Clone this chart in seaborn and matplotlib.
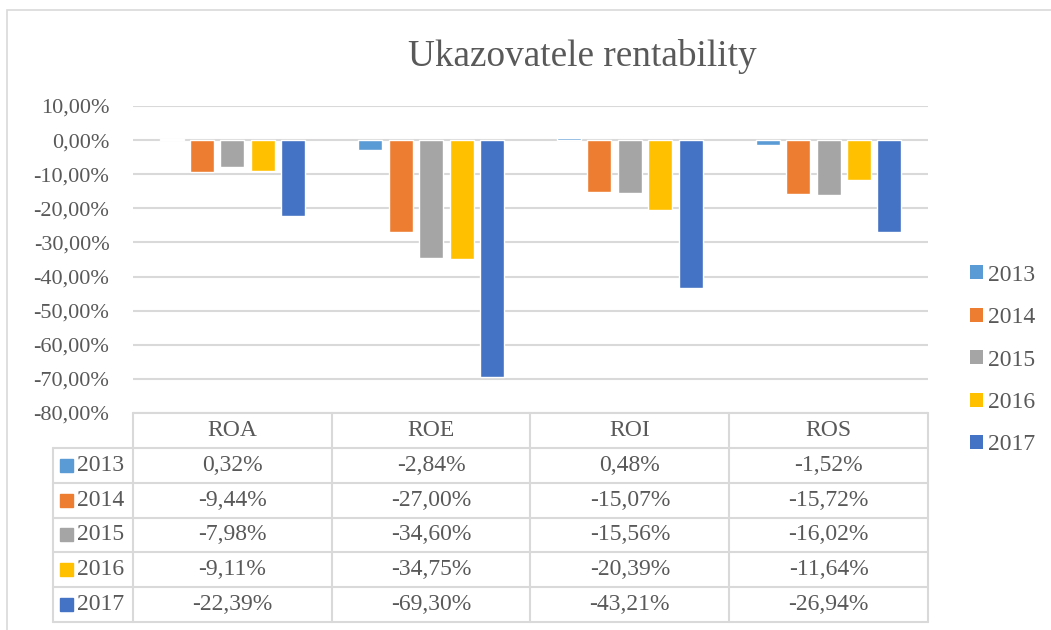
import matplotlib.pyplot as plt
import matplotlib.patches as mpatches
import pandas as pd
import seaborn as sns

categories = ["ROA", "ROE", "ROI", "ROS"]
years = ["2013", "2014", "2015", "2016", "2017"]
v2013 = [0.32, -2.84, 0.48, -1.52]
v2014 = [-9.44, -27.00, -15.07, -15.72]
v2015 = [-7.98, -34.60, -15.56, -16.02]
v2016 = [-9.11, -34.75, -20.39, -11.64]
v2017 = [-22.39, -69.30, -43.21, -26.94]
colors = ["#5B9BD5", "#ED7D31", "#A5A5A5", "#FFC000", "#4472C4"]
yticks = [10, 0, -10, -20, -30, -40, -50, -60, -70, -80]

series = [v2013, v2014, v2015, v2016, v2017]
df = pd.DataFrame({
    "ukazovatel": [c for _ in years for c in categories],
    "rok": [y for y in years for _ in categories],
    "hodnota": [v for s in series for v in s],
})

sns.set_theme(style="white")
plt.rcParams["font.family"] = ["Liberation Serif", "DejaVu Serif"]
txt = "#595959"
grid = "#D9D9D9"

W, H = 1051, 630
fig = plt.figure(figsize=(W / 100, H / 100), dpi=100)

# chart border
fig.patches.append(mpatches.Rectangle((7 / W, -0.1), 1.2, 1.1 - 10 / H, transform=fig.transFigure,
                                      fill=False, edgecolor=grid, linewidth=1.2))

# main plot area
ax = fig.add_axes([133 / W, (H - 413) / H, (928 - 133) / W, (413 - 106) / H])
sns.barplot(data=df, x="ukazovatel", y="hodnota", hue="rok", palette=colors, saturation=1,
            width=0.765, gap=0.21, ax=ax, legend=False, zorder=3)
ax.set_xlim(-0.5, 3.5)
ax.set_ylim(-80, 10)
ax.set_yticks(yticks)
ax.set_yticklabels([f"{t:.2f}%".replace(".", ",") for t in yticks], fontsize=16, color=txt)
ax.tick_params(axis="y", length=0, pad=17)
ax.set_xticks([])
ax.set_xlabel("")
ax.set_ylabel("")
for s in ax.spines.values():
    s.set_visible(False)
for t in yticks:
    ax.axhline(t, color=grid, linewidth=1.5, zorder=1)

handles = [mpatches.Patch(facecolor=c, edgecolor="none") for c in colors]
ax.legend(handles, years, loc="center left", bbox_to_anchor=(949 / W, (H - 360) / H),
          bbox_transform=fig.transFigure, frameon=False, fontsize=17, labelcolor=txt,
          handlelength=0.55, handleheight=0.55, handletextpad=0.2, labelspacing=0.91)

fig.text(582 / W, (H - 57) / H, "Ukazovatele rentability", ha="center", va="center",
         fontsize=26.8, color=txt)

# data table under the plot, aligned with category positions
lab_w = 80 / 199
tax = fig.add_axes([53 / W, (H - 622) / H, (928 - 53) / W, (622 - 413) / H])
tax.set_xlim(-0.5 - lab_w, 3.5)
tax.set_ylim(6, 0)
tax.axis("off")
lw = 1.5
tax.plot([-0.5, 3.5], [0, 0], color=grid, lw=lw, clip_on=False)
for r in range(1, 7):
    tax.plot([-0.5 - lab_w, 3.5], [r, r], color=grid, lw=lw, clip_on=False)
tax.plot([-0.5 - lab_w] * 2, [1, 6], color=grid, lw=lw, clip_on=False)
for xv in [-0.5, 0.5, 1.5, 2.5, 3.5]:
    tax.plot([xv, xv], [0, 6], color=grid, lw=lw, clip_on=False)
for i, c in enumerate(categories):
    tax.text(i, 0.5, c, ha="center", va="center", fontsize=17, color=txt)
sq_w = 13 / 199
sq_h = 13 / 35
for r, (y, s) in enumerate(zip(years, series), start=1):
    tax.add_patch(mpatches.Rectangle((-0.5 - lab_w + 7 / 199, r + 0.5 - sq_h / 2), sq_w, sq_h,
                                     color=colors[r - 1], clip_on=False))
    tax.text(-0.5 - lab_w + 24 / 199, r + 0.5, y, ha="left", va="center", fontsize=17, color=txt)
    for i, v in enumerate(s):
        tax.text(i, r + 0.5, f"{v:.2f}%".replace(".", ","), ha="center", va="center",
                 fontsize=17, color=txt)

fig.savefig("out.png", dpi=100)
